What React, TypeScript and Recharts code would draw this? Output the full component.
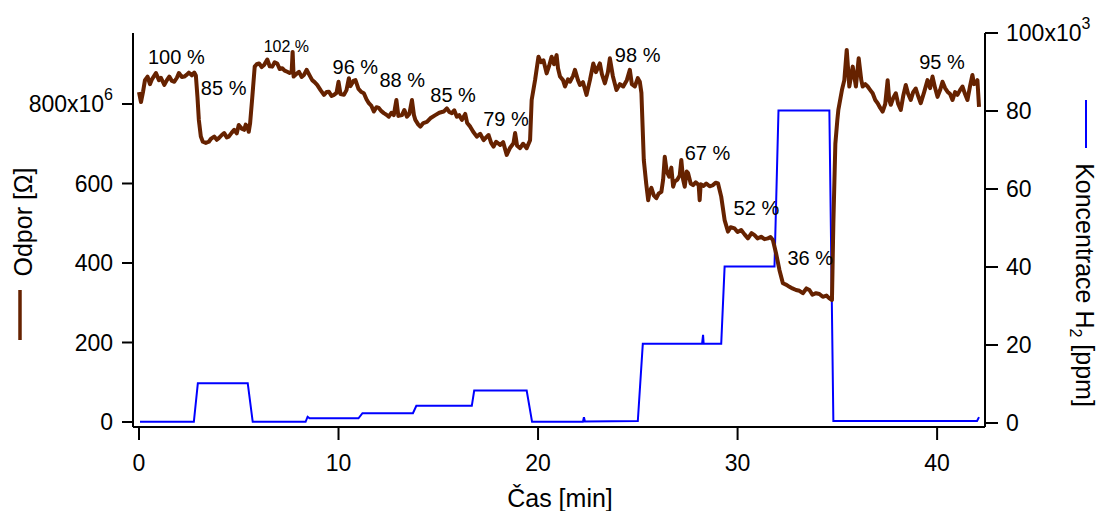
import { ComposedChart, Line, XAxis, YAxis, ReferenceDot } from 'recharts';

// resistance trace, time in min, value in 10^6 ohm
const resistanceTime = [
    0.0, 0.1, 0.2, 0.3, 0.43, 0.55, 0.65, 0.85, 1.0, 1.1, 1.27, 1.4, 1.52, 1.65, 1.77, 1.9, 2.0, 2.15, 2.27, 2.4,
    2.5, 2.65, 2.77, 2.85, 2.93, 3.0, 3.1, 3.2, 3.35, 3.5, 3.6, 3.77, 3.9, 4.0, 4.15, 4.27, 4.4, 4.5, 4.65, 4.77,
    4.9, 5.0, 5.15, 5.27, 5.35, 5.43, 5.5, 5.57, 5.68, 5.8, 5.9, 6.02, 6.15, 6.27, 6.43, 6.55, 6.68, 6.8, 6.93, 7.05,
    7.18, 7.3, 7.43, 7.55, 7.65, 7.7, 7.75, 7.9, 8.02, 8.15, 8.27, 8.4, 8.55, 8.68, 8.8, 8.93, 9.1, 9.27, 9.4, 9.52,
    9.65, 9.77, 9.9, 10.0, 10.1, 10.27, 10.4, 10.52, 10.6, 10.75, 10.85, 11.0, 11.15, 11.27, 11.4, 11.52, 11.65, 11.77, 11.9, 12.02,
    12.15, 12.27, 12.4, 12.52, 12.65, 12.77, 12.9, 13.0, 13.18, 13.3, 13.43, 13.55, 13.68, 13.78, 13.85, 14.0, 14.1, 14.25, 14.43, 14.6,
    14.85, 15.05, 15.27, 15.43, 15.55, 15.68, 15.8, 15.93, 16.05, 16.18, 16.35, 16.45, 16.6, 16.75, 16.93, 17.1, 17.27, 17.4, 17.52, 17.65,
    17.77, 17.9, 18.1, 18.25, 18.43, 18.6, 18.77, 18.85, 18.95, 19.1, 19.25, 19.43, 19.6, 19.68, 19.85, 20.02, 20.15, 20.27, 20.43, 20.55,
    20.68, 20.8, 20.93, 21.0, 21.1, 21.25, 21.35, 21.5, 21.6, 21.75, 21.85, 22.0, 22.1, 22.25, 22.43, 22.6, 22.77, 22.9, 23.1, 23.2,
    23.35, 23.5, 23.6, 23.75, 23.93, 24.1, 24.27, 24.45, 24.6, 24.7, 24.85, 25.0, 25.1, 25.18, 25.3, 25.42, 25.52, 25.6, 25.68, 25.8,
    25.93, 26.05, 26.18, 26.27, 26.35, 26.45, 26.57, 26.68, 26.77, 26.85, 26.97, 27.1, 27.18, 27.27, 27.35, 27.45, 27.52, 27.65, 27.77, 27.9,
    28.05, 28.1, 28.15, 28.3, 28.43, 28.6, 28.77, 28.9, 29.02, 29.18, 29.35, 29.52, 29.65, 29.85, 30.0, 30.18, 30.35, 30.52, 30.7, 30.85,
    31.0, 31.18, 31.35, 31.52, 31.65, 31.77, 31.93, 32.1, 32.27, 32.45, 32.6, 32.75, 32.93, 33.1, 33.27, 33.45, 33.6, 33.75, 33.93, 34.1,
    34.27, 34.45, 34.6, 34.73, 34.8, 34.9, 35.0, 35.05, 35.23, 35.35, 35.47, 35.6, 35.77, 35.93, 36.07, 36.2, 36.27, 36.4, 36.52, 36.65,
    36.77, 36.9, 37.02, 37.15, 37.27, 37.4, 37.52, 37.6, 37.68, 37.8, 37.93, 38.05, 38.18, 38.3, 38.43, 38.55, 38.68, 38.8, 38.93, 39.05,
    39.18, 39.35, 39.52, 39.65, 39.77, 39.9, 40.02, 40.15, 40.27, 40.4, 40.52, 40.65, 40.77, 40.9, 41.02, 41.15, 41.27, 41.4, 41.52, 41.65,
    41.77, 41.85, 41.93, 42.02, 42.1,
];
const resistanceOhm = [
    830, 805, 830, 860, 869, 850, 862, 878, 860, 866, 848, 860, 869, 858, 856, 866, 878, 868, 869, 874,
    879, 872, 879, 872, 818, 760, 718, 705, 702, 705, 712, 718, 710, 714, 722, 727, 716, 718, 728, 735,
    726, 747, 738, 735, 748, 743, 730, 752, 818, 894, 900, 902, 893, 898, 912, 895, 894, 905, 902, 888,
    890, 884, 881, 878, 880, 931, 869, 876, 881, 868, 873, 886, 872, 860, 855, 848, 835, 823, 830, 831,
    820, 823, 828, 856, 825, 823, 835, 865, 845, 858, 860, 838, 830, 827, 812, 802, 795, 781, 792, 790,
    782, 777, 773, 768, 778, 772, 810, 770, 772, 785, 768, 775, 810, 772, 760, 748, 743, 752, 755, 764,
    772, 778, 781, 789, 780, 777, 784, 768, 772, 760, 775, 752, 743, 730, 718, 725, 709, 716, 722, 702,
    693, 705, 697, 704, 672, 690, 701, 727, 695, 689, 700, 689, 709, 810, 860, 919, 905, 910, 877, 895,
    919, 900, 923, 890, 869, 860, 844, 862, 856, 870, 886, 860, 848, 855, 823, 860, 902, 880, 902, 875,
    852, 880, 915, 870, 835, 850, 844, 860, 886, 850, 844, 865, 856, 828, 659, 600, 558, 580, 589, 570,
    563, 575, 579, 610, 667, 630, 617, 640, 592, 605, 609, 620, 659, 610, 592, 630, 626, 600, 596, 603,
    596, 558, 598, 594, 600, 593, 596, 602, 600, 567, 508, 479, 490, 487, 478, 483, 472, 462, 475, 470,
    462, 466, 460, 462, 465, 458, 424, 382, 349, 345, 340, 336, 332, 330, 324, 336, 332, 320, 324, 322,
    315, 318, 311, 307, 500, 700, 760, 785, 835, 860, 936, 844, 894, 844, 915, 860, 844, 850, 844, 835,
    827, 810, 802, 790, 781, 800, 860, 810, 798, 815, 827, 800, 785, 820, 848, 825, 810, 830, 839, 820,
    802, 830, 860, 840, 869, 840, 818, 835, 856, 840, 831, 825, 810, 830, 823, 835, 844, 825, 810, 845,
    873, 850, 852, 860, 793,
];

// H2 concentration, time in min, value in 10^3 ppm
const concTime = [
    0.05, 2.75, 2.95, 5.45, 5.7, 8.35, 8.45, 8.55, 11.0, 11.2, 13.73, 13.9, 16.68, 16.8, 19.43, 19.7,
    22.25, 22.3, 22.35, 25.0, 25.25, 28.22, 28.27, 28.3, 29.18, 29.35, 31.85, 32.05, 34.6, 34.8, 42.0, 42.1,
];
const concPpm = [
    0.3, 0.3, 10.2, 10.2, 0.3, 0.3, 1.6, 1.2, 1.2, 2.5, 2.5, 4.4, 4.4, 8.3, 8.3, 0.3,
    0.3, 1.5, 0.4, 0.5, 20.3, 20.3, 22.6, 20.3, 20.3, 40.1, 40.1, 80.1, 80.1, 0.5, 0.5, 1.5,
];

const xTicks = [0, 10, 20, 30, 40];
const leftTicks = [0, 200, 400, 600, 800];
const rightTicks = [0, 20, 40, 60, 80, 100];

const noteTime = [0.45, 3.1, 6.25, 9.7, 12.05, 14.6, 17.25, 23.85, 27.35, 29.8, 32.5, 39.1];
const noteLevel = [918, 840, 946, 893, 860, 823, 762, 923, 677, 538, 413, 906];
const noteText = ['100 %', '85 %', '102 %', '96 %', '88 %', '85 %', '79 %', '98 %', '67 %', '52 %', '36 %', '95 %'];

const FONT = '"Liberation Sans", Arial, sans-serif';
const BROWN = '#662200';
const BLUE = '#0000ff';

const resistance = resistanceTime.map((t, i) => ({ t, v: resistanceOhm[i] }));
const concentration = concTime.map((t, i) => ({ t, v: concPpm[i] }));

const XTick = (props: any) => (
    <text x={props.x} y={props.y} dy="0.71em" textAnchor="middle" fontSize={23} fontFamily={FONT} fill="#000">
        {props.payload.value}
    </text>
);

const LeftTick = (props: any) => {
    const v = props.payload.value;
    return (
        <text x={props.x} y={props.y} dy="0.36em" textAnchor="end" fontSize={23} fontFamily={FONT} fill="#000">
            {v}
            {v === 800 && <tspan>x10<tspan dy={-12} fontSize={16}>6</tspan></tspan>}
        </text>
    );
};

const RightTick = (props: any) => {
    const v = props.payload.value;
    return (
        <text x={props.x} y={props.y} dy="0.36em" textAnchor="start" fontSize={23} fontFamily={FONT} fill="#000">
            {v}
            {v === 100 && <tspan>x10<tspan dy={-12} fontSize={16}>3</tspan></tspan>}
        </text>
    );
};

export default function App() {
    const axisStyle = { stroke: '#000', strokeWidth: 2 };
    return (
        <div style={{ position: 'absolute', left: 0, top: 0, width: 1099, height: 511, background: '#fff' }}>
            <ComposedChart width={1099} height={511} margin={{ top: 33, right: 0, bottom: 0, left: 0 }}>
                <XAxis
                    xAxisId="b"
                    dataKey="t"
                    type="number"
                    domain={[-0.3, 42.4]}
                    ticks={xTicks}
                    allowDataOverflow
                    height={84}
                    tickSize={13}
                    tickMargin={15}
                    axisLine={axisStyle}
                    tickLine={axisStyle}
                    tick={<XTick />}
                />
                <XAxis
                    xAxisId="top"
                    orientation="top"
                    type="number"
                    domain={[-0.3, 42.4]}
                    height={0}
                    tick={false}
                    tickLine={false}
                    axisLine={axisStyle}
                />
                <YAxis
                    yAxisId="r"
                    type="number"
                    domain={[-12.6, 978.6]}
                    ticks={leftTicks}
                    allowDataOverflow
                    width={133}
                    tickSize={11}
                    tickMargin={9}
                    axisLine={axisStyle}
                    tickLine={axisStyle}
                    tick={<LeftTick />}
                />
                <YAxis
                    yAxisId="c"
                    orientation="right"
                    type="number"
                    domain={[-1.03, 100]}
                    ticks={rightTicks}
                    allowDataOverflow
                    width={114}
                    tickSize={13}
                    tickMargin={8}
                    axisLine={axisStyle}
                    tickLine={axisStyle}
                    tick={<RightTick />}
                />
                <Line
                    xAxisId="b"
                    yAxisId="c"
                    data={concentration}
                    dataKey="v"
                    type="linear"
                    stroke={BLUE}
                    strokeWidth={2}
                    dot={false}
                    activeDot={false}
                    isAnimationActive={false}
                />
                <Line
                    xAxisId="b"
                    yAxisId="r"
                    data={resistance}
                    dataKey="v"
                    type="linear"
                    stroke={BROWN}
                    strokeWidth={4}
                    strokeLinejoin="round"
                    dot={false}
                    activeDot={false}
                    isAnimationActive={false}
                />
                {noteTime.map((t, i) => (
                    <ReferenceDot
                        key={i}
                        xAxisId="b"
                        yAxisId="r"
                        x={t}
                        y={noteLevel[i]}
                        r={0}
                        ifOverflow="visible"
                        shape={(p: any) => (
                            <text
                                x={p.cx}
                                y={p.cy}
                                dy="0.36em"
                                textAnchor="start"
                                fontSize={noteText[i] === '102 %' ? 16 : 20}
                                fontFamily={FONT}
                                fill="#000"
                            >
                                {noteText[i]}
                            </text>
                        )}
                    />
                ))}
            </ComposedChart>

            {/* axis titles and legend swatches */}
            <svg width={1099} height={511} style={{ position: 'absolute', left: 0, top: 0, pointerEvents: 'none' }}>
                <line x1={20} y1={290} x2={20} y2={340} stroke={BROWN} strokeWidth={3.5} />
                <text
                    transform="translate(23,222) rotate(-90)"
                    textAnchor="middle"
                    dy="0.36em"
                    fontSize={25}
                    fontFamily={FONT}
                    fill="#000"
                >
                    Odpor [Ω]
                </text>
                <line x1={1086} y1={100} x2={1086} y2={148} stroke={BLUE} strokeWidth={2} />
                <text
                    transform="translate(1085,285) rotate(90)"
                    textAnchor="middle"
                    dy="0.36em"
                    fontSize={25}
                    fontFamily={FONT}
                    fill="#000"
                >
                    Koncentrace H<tspan dy={6} fontSize={16}>2</tspan><tspan dy={-6}> [ppm]</tspan>
                </text>
                <text x={560} y={498} dy="0.36em" textAnchor="middle" fontSize={25} fontFamily={FONT} fill="#000">
                    Čas [min]
                </text>
            </svg>
        </div>
    );
}
